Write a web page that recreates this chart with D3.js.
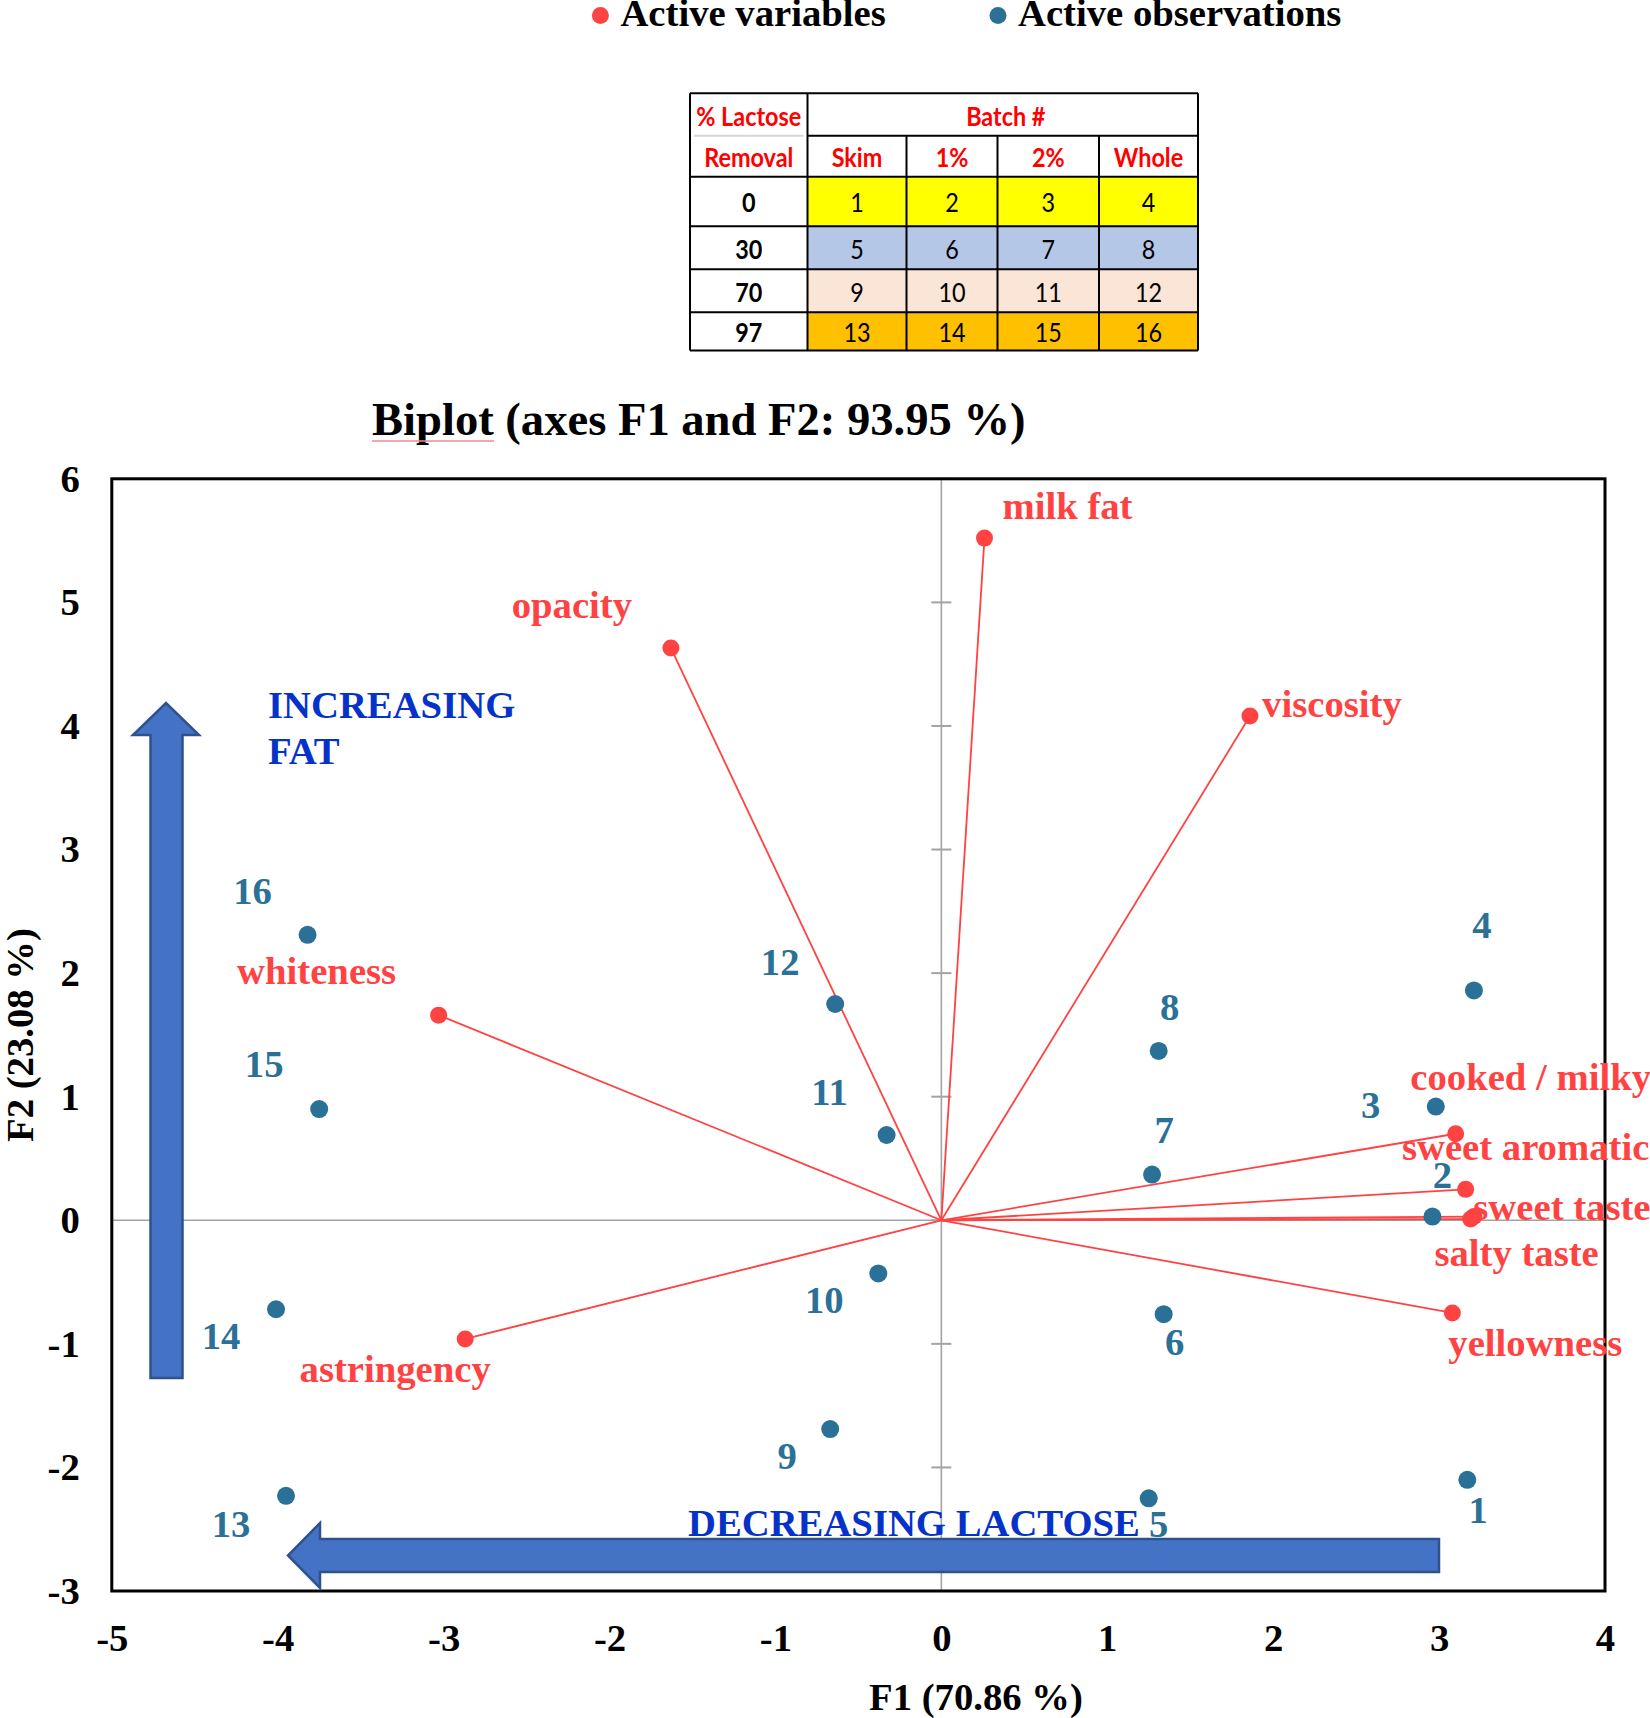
<!DOCTYPE html>
<html><head><meta charset="utf-8">
<script src="https://cdn.jsdelivr.net/npm/d3@7"></script>
<style>body{margin:0;background:#fff} svg{display:block}</style>
</head><body>
<script>
// ---------------- DATA ----------------
const variables = ["milk fat","opacity","viscosity","whiteness","astringency","cooked / milky","sweet aromatic","sweet taste","salty taste","yellowness"];
const varF1 = [0.26,-1.63,1.86,-3.03,-2.87,3.10,3.16,3.21,3.19,3.08];
const varF2 = [5.52,4.63,4.08,1.66,-0.96,0.70,0.25,0.03,0.01,-0.75];

const observations = ["1","2","3","4","5","6","7","8","9","10","11","12","13","14","15","16"];
const obsF1 = [3.17,2.96,2.98,3.21,1.25,1.34,1.27,1.31,-0.67,-0.38,-0.33,-0.64,-3.95,-4.01,-3.75,-3.82];
const obsF2 = [-2.10,0.03,0.92,1.86,-2.25,-0.76,0.37,1.37,-1.69,-0.43,0.69,1.75,-2.23,-0.72,0.90,2.31];

const xTicks = [-5,-4,-3,-2,-1,0,1,2,3,4];
const yTicks = [-3,-2,-1,0,1,2,3,4,5,6];

const titleText = "Biplot (axes F1 and F2: 93.95 %)";
const xTitle = "F1 (70.86 %)";
const yTitle = "F2 (23.08 %)";
const legendItems = ["Active variables","Active observations"];

const removal = ["0","30","70","97"];
const fatLevels = ["Skim","1%","2%","Whole"];
const batchRows = [[1,2,3,4],[5,6,7,8],[9,10,11,12],[13,14,15,16]];

// ---------------- LAYOUT / STYLE ----------------
const varLabelOff = [[83,-32],[-99,-43],[82,-12],[-122,-44],[-70,30],[75,-57],[60,-42],[88,-10],[46,34],[83,30]];
const obsLabelOff = [[11,30],[10,-42],[-65,-2],[8,-65],[10,26],[11,28],[12,-45],[11,-44],[-43,27],[-54,27],[-57,-43],[-55,-42],[-55,28],[-55,27],[-55,-45],[-55,-44]];
const rowFills = ["#FFFF00","#B4C7E7","#FBE5D6","#FFC000"];

const W = 1650, H = 1718;
const RED = "#FF4242", BLUE = "#2B7097", ARROWTXT = "#0532C8";
const SERIF = "'Liberation Serif','Times New Roman',serif";
const SANS = "Lato,'Liberation Sans',sans-serif";
const FS = 38.7;

const svg = d3.select("body").append("svg").attr("width", W).attr("height", H)
  .style("font-family", SERIF).style("font-weight", "bold");

const x = d3.scaleLinear().domain([-5,4]).range([111.8,1605]);
const y = d3.scaleLinear().domain([-3,6]).range([1591,478.8]);

// ---------- legend ----------
const legX = [600.4, 998];
legendItems.forEach((t,i)=>{
  svg.append("circle").attr("cx", legX[i]).attr("cy", 15.5).attr("r", 8.5).attr("fill", i===0?RED:BLUE);
  svg.append("text").attr("x", legX[i]+20).attr("y", 26).attr("font-size", FS).attr("fill","#000").text(t);
});

// ---------- table ----------
const colE = [690, 807.5, 906.5, 997.5, 1099, 1198];
const rowE = [93.3, 135.8, 176.7, 226.3, 269.2, 312.3, 350.6];
const tg = svg.append("g").style("font-family", SANS);
batchRows.forEach((row,ri)=>{
  row.forEach((v,ci)=>{
    tg.append("rect").attr("x", colE[ci+1]).attr("y", rowE[ri+2])
      .attr("width", colE[ci+2]-colE[ci+1]).attr("height", rowE[ri+3]-rowE[ri+2])
      .attr("fill", rowFills[ri]);
  });
});
const lineAttr = (g)=>g.attr("stroke","#000").attr("stroke-width",2);
tg.append("line").attr("x1",colE[0]).attr("x2",colE[5]).attr("y1",rowE[0]).attr("y2",rowE[0]).call(lineAttr);
tg.append("line").attr("x1",colE[1]).attr("x2",colE[5]).attr("y1",rowE[1]).attr("y2",rowE[1]).call(lineAttr);
tg.append("line").attr("x1",colE[0]+4).attr("x2",colE[1]-4).attr("y1",rowE[1]).attr("y2",rowE[1]).attr("stroke","#D6D6D6").attr("stroke-width",2);
for (let r=2;r<rowE.length;r++) tg.append("line").attr("x1",colE[0]).attr("x2",colE[5]).attr("y1",rowE[r]).attr("y2",rowE[r]).call(lineAttr);
tg.append("line").attr("x1",colE[0]).attr("x2",colE[0]).attr("y1",rowE[0]).attr("y2",rowE[6]).call(lineAttr);
tg.append("line").attr("x1",colE[1]).attr("x2",colE[1]).attr("y1",rowE[0]).attr("y2",rowE[6]).call(lineAttr);
for (let c=2;c<5;c++) tg.append("line").attr("x1",colE[c]).attr("x2",colE[c]).attr("y1",rowE[1]).attr("y2",rowE[6]).call(lineAttr);
tg.append("line").attr("x1",colE[5]).attr("x2",colE[5]).attr("y1",rowE[0]).attr("y2",rowE[6]).call(lineAttr);

const TFS = 26;
const cellText = (cx, cy, t, color, weight) =>
  tg.append("text").attr("transform", `translate(${cx},${cy}) scale(0.9,1)`).attr("text-anchor","middle").attr("dominant-baseline","central")
    .attr("font-size", TFS).attr("font-weight", weight).attr("fill", color).text(t);
cellText((colE[0]+colE[1])/2, (rowE[0]+rowE[1])/2+1, "% Lactose", "#FF0000", "bold");
cellText((colE[0]+colE[1])/2, (rowE[1]+rowE[2])/2+1, "Removal", "#FF0000", "bold");
cellText((colE[1]+colE[5])/2+3, (rowE[0]+rowE[1])/2+1, "Batch #", "#FF0000", "bold");
fatLevels.forEach((f,i)=>cellText((colE[i+1]+colE[i+2])/2, (rowE[1]+rowE[2])/2+1, f, "#FF0000", "bold"));
removal.forEach((r,i)=>{
  cellText((colE[0]+colE[1])/2, (rowE[i+2]+rowE[i+3])/2+1, r, "#000", "bold");
  batchRows[i].forEach((v,ci)=>cellText((colE[ci+1]+colE[ci+2])/2, (rowE[i+2]+rowE[i+3])/2+1, String(v), "#000", "normal"));
});

// ---------- title ----------
svg.append("text").attr("x", 372).attr("y", 435).attr("font-size", 46.6).attr("fill","#000").text(titleText);
svg.append("line").attr("x1",372).attr("x2",494).attr("y1",441).attr("y2",441).attr("stroke","#F08A8A").attr("stroke-width",1.5);

// ---------- plot frame & zero lines ----------
svg.append("line").attr("x1", x(0)).attr("x2", x(0)).attr("y1", y(6)).attr("y2", y(-3)).attr("stroke","#A3A3A3").attr("stroke-width",1.6);
svg.append("line").attr("x1", x(-5)).attr("x2", x(4)).attr("y1", y(0)).attr("y2", y(0)).attr("stroke","#A3A3A3").attr("stroke-width",1.6);
yTicks.forEach(t=>{
  svg.append("line").attr("x1", x(0)-10).attr("x2", x(0)+10).attr("y1", y(t)).attr("y2", y(t)).attr("stroke","#A3A3A3").attr("stroke-width",2);
});
svg.append("rect").attr("x", x(-5)).attr("y", y(6)).attr("width", x(4)-x(-5)).attr("height", y(-3)-y(6))
  .attr("fill","none").attr("stroke","#000").attr("stroke-width",3);

const gx = svg.append("g").attr("transform", `translate(0,${y(-3)})`)
  .call(d3.axisBottom(x).tickValues(xTicks).tickSize(0).tickPadding(32.5).tickFormat(d3.format("d")));
const gy = svg.append("g").attr("transform", `translate(${x(-5)},0)`)
  .call(d3.axisLeft(y).tickValues(yTicks).tickSize(0).tickPadding(32).tickFormat(d3.format("d")));
[gx,gy].forEach(g=>{
  g.select(".domain").remove();
  g.selectAll("text").attr("font-size", FS).attr("font-family", SERIF).attr("font-weight","bold").attr("fill","#000")
    .text(d=> d<0 ? "-"+Math.abs(d) : String(d));
});

svg.append("text").attr("x", 976).attr("y", 1710).attr("text-anchor","middle").attr("font-size", FS).text(xTitle);
svg.append("text").attr("transform", `translate(33,1035) rotate(-90)`).attr("text-anchor","middle").attr("font-size", FS).text(yTitle);

// ---------- variable vectors ----------
const vg = svg.append("g");
variables.forEach((v,i)=>{
  vg.append("line").attr("x1", x(0)).attr("y1", y(0)).attr("x2", x(varF1[i])).attr("y2", y(varF2[i]))
    .attr("stroke", RED).attr("stroke-width", 1.8);
});
observations.forEach((o,i)=>{
  svg.append("circle").attr("cx", x(obsF1[i])).attr("cy", y(obsF2[i])).attr("r", 9).attr("fill", BLUE);
});
variables.forEach((v,i)=>{
  svg.append("circle").attr("cx", x(varF1[i])).attr("cy", y(varF2[i])).attr("r", 8.5).attr("fill", RED);
});
observations.forEach((o,i)=>{
  svg.append("text").attr("x", x(obsF1[i])+obsLabelOff[i][0]).attr("y", y(obsF2[i])+obsLabelOff[i][1])
    .attr("text-anchor","middle").attr("dominant-baseline","central").attr("font-size", FS).attr("fill", BLUE).text(o);
});
variables.forEach((v,i)=>{
  svg.append("text").attr("x", x(varF1[i])+varLabelOff[i][0]).attr("y", y(varF2[i])+varLabelOff[i][1])
    .attr("text-anchor","middle").attr("dominant-baseline","central").attr("font-size", FS).attr("fill", RED).text(v);
});

// ---------- arrows ----------
const ARF = "#4472C4", ARS = "#2F528F";
svg.append("path").attr("d", "M150.5,1378 L150.5,735 L133,735 L166,703 L199,735 L182.5,735 L182.5,1378 Z")
  .attr("fill", ARF).attr("stroke", ARS).attr("stroke-width", 2.5);
svg.append("path").attr("d", "M1439,1539 L320,1539 L320,1523 L288,1555.5 L320,1588 L320,1572 L1439,1572 Z")
  .attr("fill", ARF).attr("stroke", ARS).attr("stroke-width", 2.5);
svg.append("text").attr("x", 268).attr("y", 718).attr("font-size", FS).attr("fill", ARROWTXT).text("INCREASING");
svg.append("text").attr("x", 268).attr("y", 764).attr("font-size", FS).attr("fill", ARROWTXT).text("FAT");
svg.append("text").attr("x", 688).attr("y", 1536).attr("font-size", FS).attr("fill", ARROWTXT).text("DECREASING LACTOSE");
</script>
</body></html>
